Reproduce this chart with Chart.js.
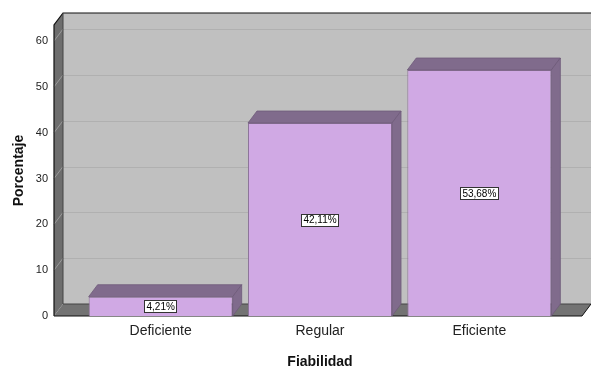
<!DOCTYPE html>
<html>
<head>
<meta charset="utf-8">
<script src="https://cdn.jsdelivr.net/npm/chart.js@4.4.0/dist/chart.umd.min.js"></script>
<style>
  body { margin: 0; background: #fff; }
  #wrap { width: 591px; height: 369px; }
</style>
</head>
<body>
<div id="wrap"><canvas id="fiabChart" width="591" height="369"></canvas></div>
<script>
// datos
const categorias = ['Deficiente', 'Regular', 'Eficiente'];
const porcentajes = [4.21, 42.11, 53.68];
const escalaY = { min: 0, max: 63.5, paso: 10 };

// profundidad del efecto 3D
const DX = 9, DY = -12;
const FONT = "'Liberation Sans', Arial, sans-serif";

// caja 3D: pared del fondo, rejilla, suelo y pared izquierda
const caja3d = {
    id: 'caja3d',
    beforeDatasetsDraw(chart) {
        const { ctx, chartArea, scales } = chart;
        const y = scales.y;
        const x0 = chartArea.left - 27;
        const x1 = chart.width - DX;
        const top = chartArea.top, bot = chartArea.bottom;
        ctx.save();

        // pared del fondo
        ctx.fillStyle = '#c0c0c0';
        ctx.fillRect(x0 + DX, top + DY, chart.width, bot - top);

        // lineas de rejilla
        ctx.strokeStyle = '#b0b0b0';
        ctx.lineWidth = 1;
        y.ticks.forEach(t => {
            if (t.value === 0) return;
            const py = Math.round(y.getPixelForValue(t.value)) + 0.5;
            ctx.beginPath();
            ctx.moveTo(x0 + DX, py + DY);
            ctx.lineTo(chart.width, py + DY);
            ctx.stroke();
        });

        // suelo
        ctx.fillStyle = '#737373';
        ctx.beginPath();
        ctx.moveTo(x0, bot);
        ctx.lineTo(x0 + DX, bot + DY);
        ctx.lineTo(x1 + DX, bot + DY);
        ctx.lineTo(x1, bot);
        ctx.closePath();
        ctx.fill();

        // pared izquierda
        ctx.fillStyle = '#6e6e6e';
        ctx.beginPath();
        ctx.moveTo(x0, bot);
        ctx.lineTo(x0, top);
        ctx.lineTo(x0 + DX, top + DY);
        ctx.lineTo(x0 + DX, bot + DY);
        ctx.closePath();
        ctx.fill();

        // marcas diagonales en la pared izquierda
        ctx.strokeStyle = '#9a9a9a';
        y.ticks.forEach(t => {
            if (t.value === 0) return;
            const py = y.getPixelForValue(t.value);
            ctx.beginPath();
            ctx.moveTo(x0, py);
            ctx.lineTo(x0 + DX, py + DY);
            ctx.stroke();
        });

        // bordes
        ctx.strokeStyle = '#111';
        ctx.lineWidth = 1.2;
        ctx.beginPath();
        ctx.moveTo(x0, bot);
        ctx.lineTo(x0, top);
        ctx.lineTo(x0 + DX, top + DY);
        ctx.lineTo(chart.width, top + DY);
        ctx.stroke();
        ctx.beginPath();
        ctx.moveTo(x0 + DX, top + DY);
        ctx.lineTo(x0 + DX, bot + DY);
        ctx.lineTo(chart.width, bot + DY);
        ctx.strokeStyle = '#444';
        ctx.lineWidth = 1;
        ctx.stroke();
        ctx.beginPath();
        ctx.moveTo(x0, bot);
        ctx.lineTo(x1, bot);
        ctx.lineTo(x1 + DX, bot + DY);
        ctx.strokeStyle = '#111';
        ctx.stroke();
        ctx.restore();
    },
    afterDatasetsDraw(chart) {
        const { ctx } = chart;
        const meta = chart.getDatasetMeta(0);
        ctx.save();
        meta.data.forEach((bar, i) => {
            const l = bar.x - bar.width / 2, r = bar.x + bar.width / 2;
            const t = bar.y, b = bar.base;
            ctx.fillStyle = '#806b8c';
            ctx.strokeStyle = '#6e5a7a';
            ctx.lineWidth = 0.8;
            // cara superior
            ctx.beginPath();
            ctx.moveTo(l, t);
            ctx.lineTo(l + DX, t + DY);
            ctx.lineTo(r + DX, t + DY);
            ctx.lineTo(r, t);
            ctx.closePath();
            ctx.fill();
            ctx.stroke();
            // cara lateral
            ctx.beginPath();
            ctx.moveTo(r, t);
            ctx.lineTo(r + DX, t + DY);
            ctx.lineTo(r + DX, b + DY);
            ctx.lineTo(r, b);
            ctx.closePath();
            ctx.fill();
            ctx.stroke();

            // etiqueta del valor
            const txt = porcentajes[i].toFixed(2).replace('.', ',') + '%';
            ctx.font = '10px ' + FONT;
            const w = ctx.measureText(txt).width + 4;
            const h = 12;
            const cy = (t + b) / 2;
            ctx.fillStyle = '#fff';
            ctx.fillRect(Math.round(bar.x - w / 2) + 0.5, Math.round(cy - h / 2) + 0.5, Math.round(w), h);
            ctx.strokeStyle = '#333';
            ctx.lineWidth = 1;
            ctx.strokeRect(Math.round(bar.x - w / 2) + 0.5, Math.round(cy - h / 2) + 0.5, Math.round(w), h);
            ctx.fillStyle = '#000';
            ctx.textAlign = 'center';
            ctx.textBaseline = 'middle';
            ctx.fillText(txt, bar.x, cy + 1);
        });
        ctx.restore();
    }
};

new Chart(document.getElementById('fiabChart'), {
    type: 'bar',
    data: {
        labels: categorias,
        datasets: [{
            data: porcentajes,
            backgroundColor: '#d0a9e4',
            borderColor: '#8c7498',
            borderWidth: 1,
            barPercentage: 0.904,
            categoryPercentage: 1
        }]
    },
    options: {
        responsive: false,
        animation: false,
        layout: { padding: { top: 25, right: 32, left: 0, bottom: 0 } },
        plugins: { legend: { display: false }, tooltip: { enabled: false } },
        scales: {
            x: {
                grid: { display: false, drawTicks: false },
                border: { display: false },
                ticks: { color: '#222', font: { family: FONT, size: 14 }, padding: 7 },
                title: {
                    display: true, text: 'Fiabilidad', color: '#111',
                    font: { family: FONT, size: 14, weight: 'bold' },
                    padding: { top: -2, bottom: -2 }
                },
                afterFit: axis => { axis.height = 53; }
            },
            y: {
                min: escalaY.min,
                max: escalaY.max,
                grid: { display: false, drawTicks: false },
                border: { display: false },
                ticks: {
                    stepSize: escalaY.paso, includeBounds: false,
                    color: '#222', font: { family: FONT, size: 11 }, padding: 33
                },
                title: {
                    display: true, text: 'Porcentaje', color: '#111',
                    font: { family: FONT, size: 14, weight: 'bold' },
                    padding: { top: 11, bottom: 11 }
                },
                afterFit: axis => {
                    axis.width = 81;
                    axis.paddingTop = 0;
                    axis.paddingBottom = 0;
                }
            }
        }
    },
    plugins: [caja3d]
});
</script>
</body>
</html>
